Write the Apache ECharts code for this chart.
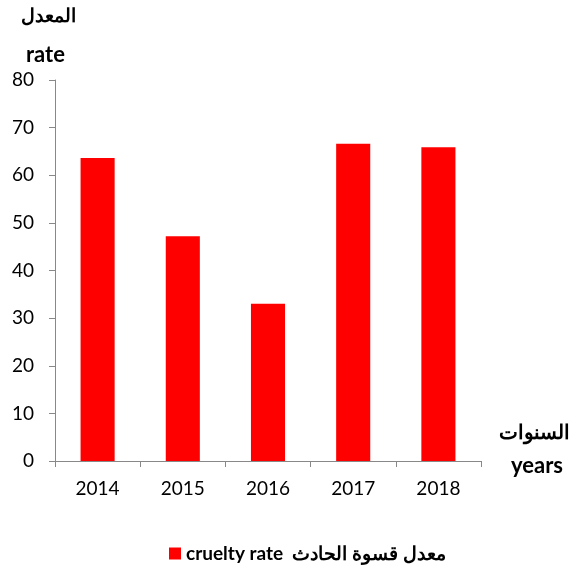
<!DOCTYPE html>
<html>
<head>
<meta charset="utf-8">
<script src="https://cdn.jsdelivr.net/npm/echarts@6/dist/echarts.min.js"></script>
<style>
  html, body { margin: 0; padding: 0; background: #fff; }
  #chart { width: 578px; height: 565px; }
</style>
</head>
<body>
<div id="chart"></div>
<script>
var years = ['2014', '2015', '2016', '2017', '2018'];
var crueltyRate = [63.6, 47.2, 33.0, 66.6, 65.9];
var seriesName = 'cruelty rate  معدل قسوة الحادث';

var chart = echarts.init(document.getElementById('chart'));
var font = 'Lato, "Open Sans", sans-serif';

var option = {
    animation: false,
    grid: {
        left: 55,
        right: 97,
        top: 80,
        bottom: 104
    },
    legend: {
        top: 539,
        left: 164,
        icon: 'rect',
        itemWidth: 12,
        itemHeight: 12,
        itemGap: 6,
        data: [seriesName],
        textStyle: {
            fontFamily: font,
            fontWeight: 'bold',
            fontSize: 19,
            color: '#000'
        }
    },
    graphic: [
        {
            type: 'text',
            left: 21,
            top: 6,
            style: { text: 'المعدل', font: 'bold 19px ' + font, fill: '#000' }
        },
        {
            type: 'text',
            left: 26,
            top: 44,
            style: { text: 'rate', font: 'bold 22px ' + font, fill: '#000' }
        },
        {
            type: 'text',
            left: 499,
            top: 423,
            style: { text: 'السنوات', font: 'bold 20px ' + font, fill: '#000' }
        },
        {
            type: 'text',
            left: 511,
            top: 455,
            style: { text: 'years', font: 'bold 22px ' + font, fill: '#000' }
        }
    ],
    xAxis: {
        type: 'category',
        data: years,
        boundaryGap: true,
        axisLine: { lineStyle: { color: '#888', width: 1 } },
        axisTick: { show: true, length: 6, lineStyle: { color: '#888' } },
        axisLabel: {
            color: '#000',
            fontFamily: font,
            fontSize: 19,
            margin: 18
        },
        splitLine: { show: false }
    },
    yAxis: {
        type: 'value',
        min: 0,
        max: 80,
        interval: 10,
        axisLine: { show: true, lineStyle: { color: '#888', width: 1 } },
        axisTick: { show: true, length: 6, lineStyle: { color: '#888' } },
        axisLabel: {
            color: '#000',
            fontFamily: font,
            fontSize: 19,
            margin: 21
        },
        splitLine: { show: false }
    },
    series: [{
        name: seriesName,
        type: 'bar',
        data: crueltyRate,
        barWidth: '40%',
        itemStyle: {
            color: '#ff0000'
        }
    }]
};
chart.setOption(option);
</script>
</body>
</html>
